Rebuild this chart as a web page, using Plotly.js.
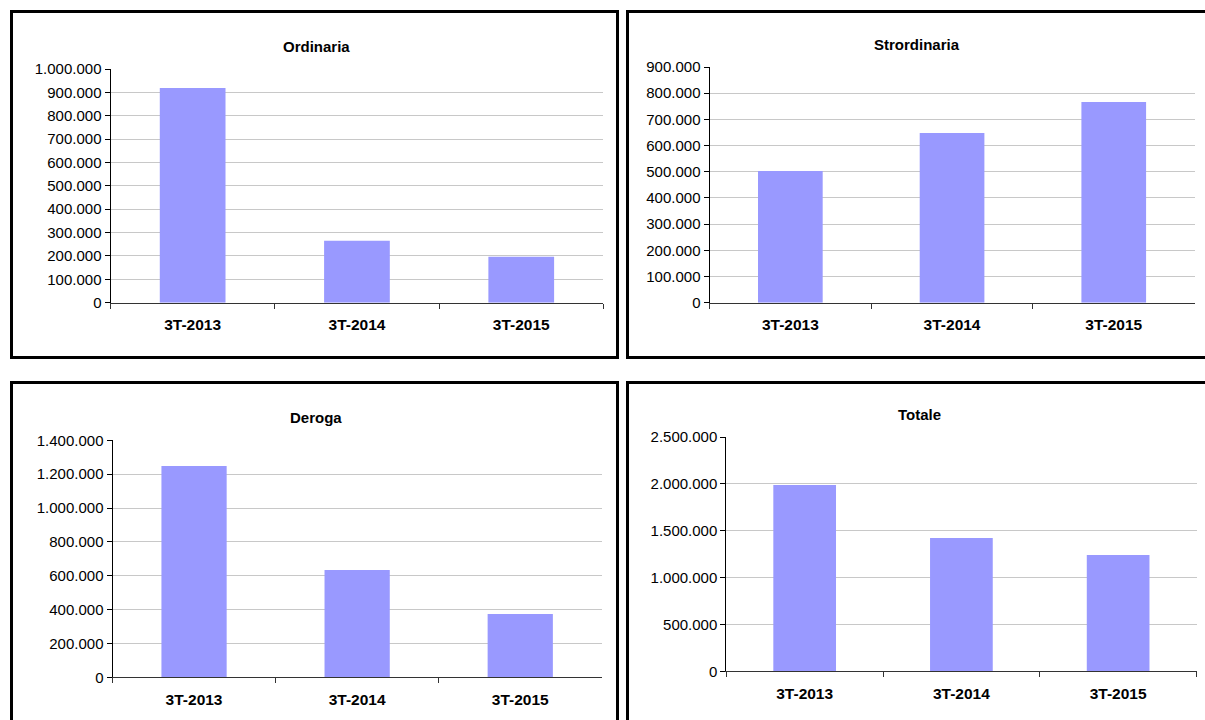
<!DOCTYPE html>
<html>
<head>
<meta charset="utf-8">
<script src="https://cdn.plot.ly/plotly-3.0.1.min.js"></script>
<style>
  html, body { margin: 0; padding: 0; background: #ffffff; }
  #chart { width: 1205px; height: 720px; }
</style>
</head>
<body>
<div id="chart"></div>
<script>
// ---- data ----
const categories = ["3T-2013", "3T-2014", "3T-2015"];
const ordinaria = [918700, 265300, 196900];
const strordinaria = [502800, 648000, 766300];
const deroga = [1248000, 634000, 374100];
const totale = [1987900, 1422500, 1241100];
const panelTitles = ["Ordinaria", "Strordinaria", "Deroga", "Totale"];

// ---- layout helpers ----
const W = 1205, H = 720;
const px = v => v / W;
const py = v => 1 - v / H;

const barColor = "#9999FF";
const font = "Liberation Sans, Arial, sans-serif";

const panels = [
  { vals: ordinaria,    x: [110.5, 603.4], y: [302.7, 69.0],  max: 1000000, dtick: 100000, title: [316, 46.5] },
  { vals: strordinaria, x: [709.5, 1194.6], y: [302.7, 67.0], max: 900000,  dtick: 100000, title: [917, 44.3] },
  { vals: deroga,       x: [112.5, 601.8], y: [677.3, 440.3], max: 1400000, dtick: 200000, title: [316, 417.7] },
  { vals: totale,       x: [726.3, 1196.5], y: [671.3, 437.0], max: 2500000, dtick: 500000, title: [920, 414.3] }
];

const data = [];
const layout = {
  width: W, height: H,
  margin: { l: 0, r: 0, t: 0, b: 0 },
  paper_bgcolor: "#ffffff",
  plot_bgcolor: "#ffffff",
  showlegend: false,
  separators: ",.",
  font: { family: font, size: 15, color: "#000000" },
  annotations: [],
  shapes: []
};

panels.forEach((p, i) => {
  const n = i + 1;
  const xa = n === 1 ? "xaxis" : "xaxis" + n;
  const ya = n === 1 ? "yaxis" : "yaxis" + n;
  data.push({
    type: "bar",
    x: categories,
    y: p.vals,
    xaxis: "x" + (n === 1 ? "" : n),
    yaxis: "y" + (n === 1 ? "" : n),
    marker: { color: barColor, line: { width: 0 } },
    width: 0.4,
    hoverinfo: "x+y"
  });
  layout[xa] = {
    domain: [px(p.x[0]), px(p.x[1])],
    anchor: "y" + (n === 1 ? "" : n),
    type: "category",
    range: [-0.5, 2.5],
    showline: true, linecolor: "#333333", linewidth: 1,
    ticks: "outside", tickson: "boundaries", ticklen: 5, tickcolor: "#333333",
    ticklabelstandoff: 8,
    showgrid: false, zeroline: false,
    tickfont: { family: font, size: 15.5, color: "#000000", weight: "bold" },
    fixedrange: true
  };
  layout[ya] = {
    domain: [py(p.y[0]), py(p.y[1])],
    anchor: "x" + (n === 1 ? "" : n),
    range: [0, p.max],
    dtick: p.dtick, tick0: 0,
    tickformat: ",d",
    showline: true, linecolor: "#000000", linewidth: 1,
    ticks: "outside", ticklen: 5, tickcolor: "#000000",
    showgrid: true, gridcolor: "#c8c8c8", gridwidth: 1,
    zeroline: false,
    tickfont: { family: font, size: 15, color: "#000000" },
    fixedrange: true
  };
  layout.annotations.push({
    xref: "paper", yref: "paper",
    x: px(p.title[0]), y: py(p.title[1]),
    xanchor: "center", yanchor: "middle",
    showarrow: false,
    text: "<b>" + panelTitles[i] + "</b>",
    font: { family: font, size: 15, color: "#000000" }
  });
});

// panel frames
const frames = [
  [11.5, 617.5, 11.5, 357.5],
  [627.5, 1215, 11.5, 357.5],
  [11.5, 617.5, 382.5, 735],
  [627.5, 1215, 382.5, 735]
];
frames.forEach(f => {
  layout.shapes.push({
    type: "rect", xref: "paper", yref: "paper",
    x0: px(f[0]), x1: px(f[1]), y0: py(f[2]), y1: py(f[3]),
    line: { color: "#000000", width: 3 },
    fillcolor: "rgba(0,0,0,0)"
  });
});

Plotly.newPlot("chart", data, layout, { displayModeBar: false, staticPlot: true });
</script>
</body>
</html>
